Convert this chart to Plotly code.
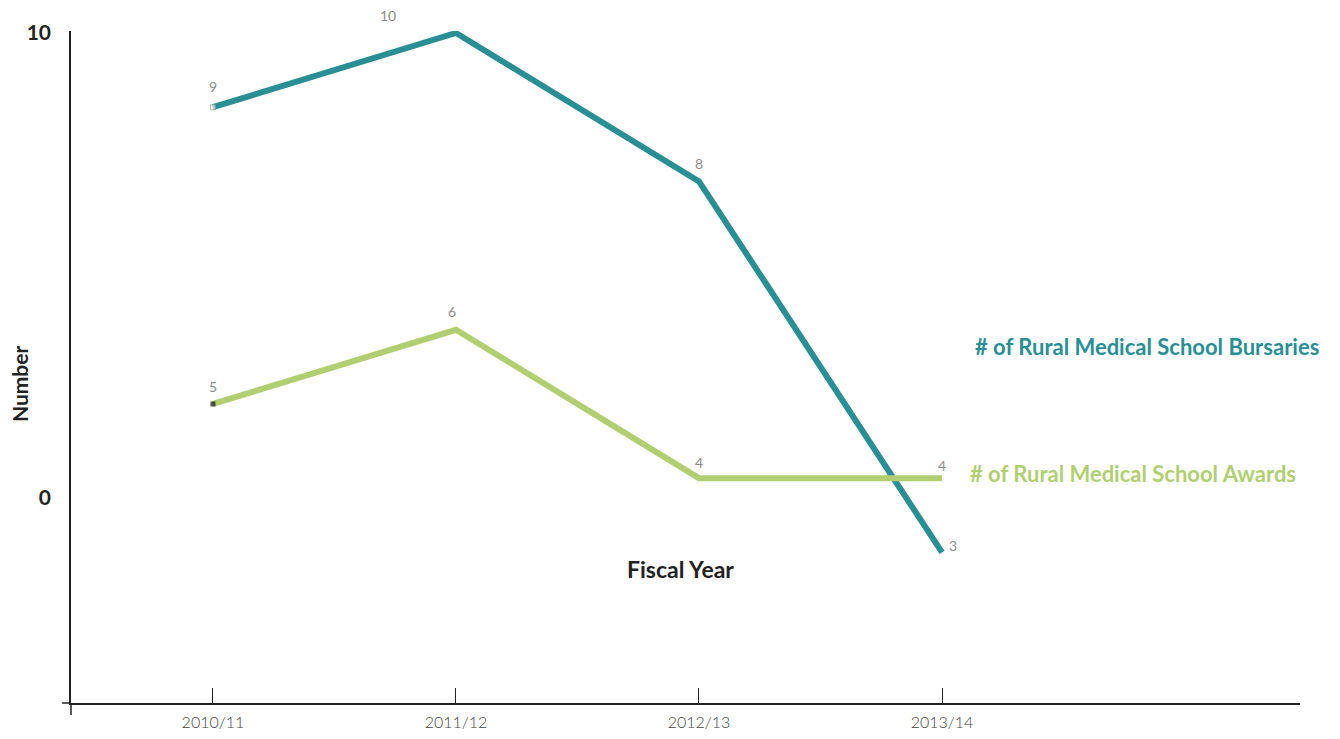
import plotly.graph_objects as go

categories = ["2010/11", "2011/12", "2012/13", "2013/14"]
bursaries = [9, 10, 8, 3]
awards = [5, 6, 4, 4]
series_names = ["# of Rural Medical School Bursaries", "# of Rural Medical School Awards"]
y_tick_labels = ["10", "0"]

TEAL = "#2a8e95"
GREEN = "#b1cf72"
x = list(range(len(categories)))

fig = go.Figure()
fig.add_trace(go.Scatter(
    x=x, y=bursaries, mode="lines+markers",
    line=dict(color=TEAL, width=6),
    marker=dict(symbol="square", size=[5, 0, 0, 0], color="#e8e8e8",
                line=dict(color="#999", width=1)),
    hoverinfo="skip", showlegend=False))
fig.add_trace(go.Scatter(
    x=x, y=awards, mode="lines+markers",
    line=dict(color=GREEN, width=6),
    marker=dict(symbol="square", size=[5, 0, 0, 0], color="#111",
                line=dict(width=0)),
    hoverinfo="skip", showlegend=False))

label_font = dict(family="Lato", size=14, color="#8c8c8c")
# label offsets (xshift, yshift) in pixels
b_off = [(0, 21), (-68, 18), (0, 18), (11, 7)]
a_off = [(0, 17), (-4, 18), (0, 16), (0, 13)]
for xi, v, (dx, dy) in zip(x, bursaries, b_off):
    fig.add_annotation(x=xi, y=v, text=str(v), showarrow=False, font=label_font,
                       xshift=dx, yshift=dy)
for xi, v, (dx, dy) in zip(x, awards, a_off):
    fig.add_annotation(x=xi, y=v, text=str(v), showarrow=False, font=label_font,
                       xshift=dx, yshift=dy)

# series labels
fig.add_annotation(x=3, y=bursaries[-1], xref="x", yref="y", text=series_names[0],
                   showarrow=False, xanchor="left", yanchor="middle", xshift=31, yshift=206,
                   font=dict(family="Lato", size=22, color=TEAL, weight="bold"))
fig.add_annotation(x=3, y=awards[-1], xref="x", yref="y", text=series_names[1],
                   showarrow=False, xanchor="left", yanchor="middle", xshift=26, yshift=5,
                   font=dict(family="Lato", size=22, color=GREEN, weight="bold"))

# axis titles
fig.add_annotation(x=0.496, y=0.1994, xref="paper", yref="paper", text="Fiscal Year",
                   xanchor="center", yanchor="middle",
                   showarrow=False, font=dict(family="Lato", size=23, color="#222", weight="bold"))
fig.add_annotation(x=-0.0413, y=0.475, xref="paper", yref="paper", text="Number",
                   xanchor="center", yanchor="middle",
                   showarrow=False, textangle=-90,
                   font=dict(family="Lato", size=21, color="#222", weight="bold"))

# axis line extensions
fig.add_shape(type="line", xref="paper", yref="paper", x0=-0.0073, x1=0, y0=0, y1=0,
              line=dict(color="#222", width=1.5))
fig.add_shape(type="line", xref="paper", yref="paper", x0=0, x1=0, y0=-0.018, y1=0,
              line=dict(color="#222", width=1.5))

fig.update_layout(
    width=1324, height=723,
    margin=dict(l=63, r=32, t=23, b=28, autoexpand=False),
    plot_bgcolor="white", paper_bgcolor="white",
    xaxis=dict(range=[-0.584, 4.473], tickvals=x, ticktext=categories,
               showline=True, linecolor="#222", linewidth=1.5, automargin=False,
               ticks="inside", ticklen=15, tickcolor="#222", tickwidth=1,
               showgrid=False, zeroline=False, ticklabelstandoff=4,
               tickfont=dict(family="Lato", size=16, color="#444", weight=300)),
    yaxis=dict(range=[0.970, 10.027], tickvals=[10, 3.733], ticktext=y_tick_labels,
               showline=True, linecolor="#222", linewidth=1.5, automargin=False,
               ticks="", showgrid=False, zeroline=False, ticklabelstandoff=14,
               tickfont=dict(family="Lato", size=21, color="#222", weight="bold")),
)

fig.write_html("out.html")
